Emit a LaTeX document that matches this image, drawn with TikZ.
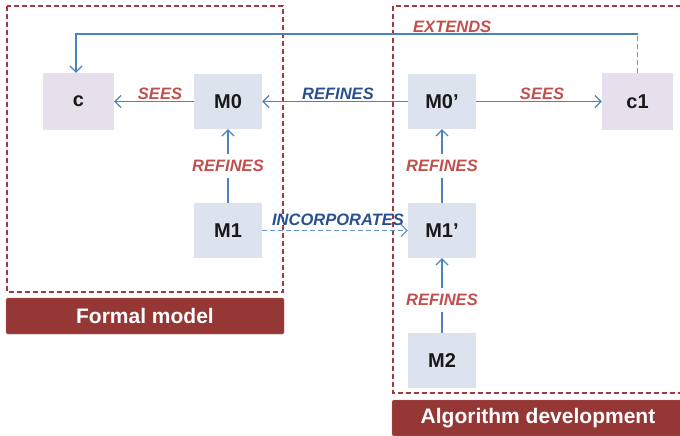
\documentclass[tikz,border=0pt]{standalone}
\usepackage{fontspec}
\setmainfont{Liberation Sans}
\usetikzlibrary{arrows.meta}
\definecolor{boxred}{HTML}{A3383A}
\definecolor{barred}{HTML}{953735}
\definecolor{lblred}{HTML}{C0504D}
\definecolor{lblblue}{HTML}{2A5090}
\definecolor{arrblue}{HTML}{4F81BD}
\definecolor{mfill}{HTML}{DCE3EE}
\definecolor{cfill}{HTML}{E6E0EC}
\tikzset{
  mbox/.style={fill=mfill, minimum width=68pt, minimum height=55pt, inner sep=0pt,
    font=\fontsize{20}{22}\selectfont\bfseries, text=black!90},
  cbox/.style={mbox, fill=cfill, minimum width=71pt, minimum height=57pt},
  region/.style={draw=boxred, line width=1.2pt, dash pattern=on 5pt off 3pt},
  bar/.style={fill=barred, draw=barred!70!white, line width=0.4pt, rounded corners=1.5pt,
    text=white, font=\fontsize{21}{23}\selectfont\bfseries, inner sep=0pt},
  conn/.style={draw=arrblue, line width=1.3pt, -{Straight Barb[length=6pt,width=12pt,line width=1.2pt]}},
  dconn/.style={conn, draw=arrblue!85!white, dash pattern=on 5pt off 3pt},
  redlbl/.style={text=lblred, font=\fontsize{16.5}{18}\selectfont\bfseries\itshape, inner sep=1pt},
  bluelbl/.style={redlbl, text=lblblue},
  brk/.style={redlbl, fill=white, inner xsep=1pt, inner ysep=6pt}
}
\begin{document}
\begin{tikzpicture}[x=1pt,y=-1pt]
\useasboundingbox (0,0) rectangle (680,436);
\begin{scope}
\clip (0,0) rectangle (680,436);
% regions
\draw[region] (7,6) rectangle (283,292);
\draw[region] (393,6) rectangle (690,393);
\end{scope}
\node[bar, minimum width=278pt, minimum height=36pt] (fm) at (145,316) {Formal model};
\node[bar, minimum width=292pt, minimum height=36pt] (ad) at (538,418) {Algorithm development};
% nodes
\node[cbox] (c) at (78.5,101.5) {c};
\node[mbox] (m0) at (228,101.5) {M0};
\node[mbox] (m1) at (228,230.5) {M1};
\node[mbox] (m0p) at (442,101.5) {M0’};
\node[cbox] (c1) at (637.5,101.5) {c1};
\node[mbox] (m1p) at (442,230.5) {M1’};
\node[mbox] (m2) at (442,360.5) {M2};
% connectors
\draw[conn] (m0) -- node[redlbl, above, xshift=6pt] {SEES} (c);
\draw[conn] (m0p) -- node[bluelbl, above, xshift=3pt] {REFINES} (m0);
\draw[conn] (m0p) -- node[redlbl, above, xshift=3pt] {SEES} (c1);
\draw[conn] (m1) -- node[brk] {REFINES} (m0);
\draw[conn] (m1p) -- node[brk] {REFINES} (m0p);
\draw[conn] (m2) -- node[brk, yshift=-4.5pt] {REFINES} (m1p);
\draw[dconn] (m1) -- node[bluelbl, above, xshift=3pt, yshift=3pt] {INCORPORATES} (m1p);
\coordinate (ext) at (637.5,34);
\draw[draw=arrblue!85!white, line width=1.3pt, dash pattern=on 5pt off 3pt] (c1.north) -- (ext);
\draw[conn] (ext) -- node[redlbl, above, pos=0.33] {EXTENDS} (76,34) -- (c.north -| 76,0);
\end{tikzpicture}
\end{document}
